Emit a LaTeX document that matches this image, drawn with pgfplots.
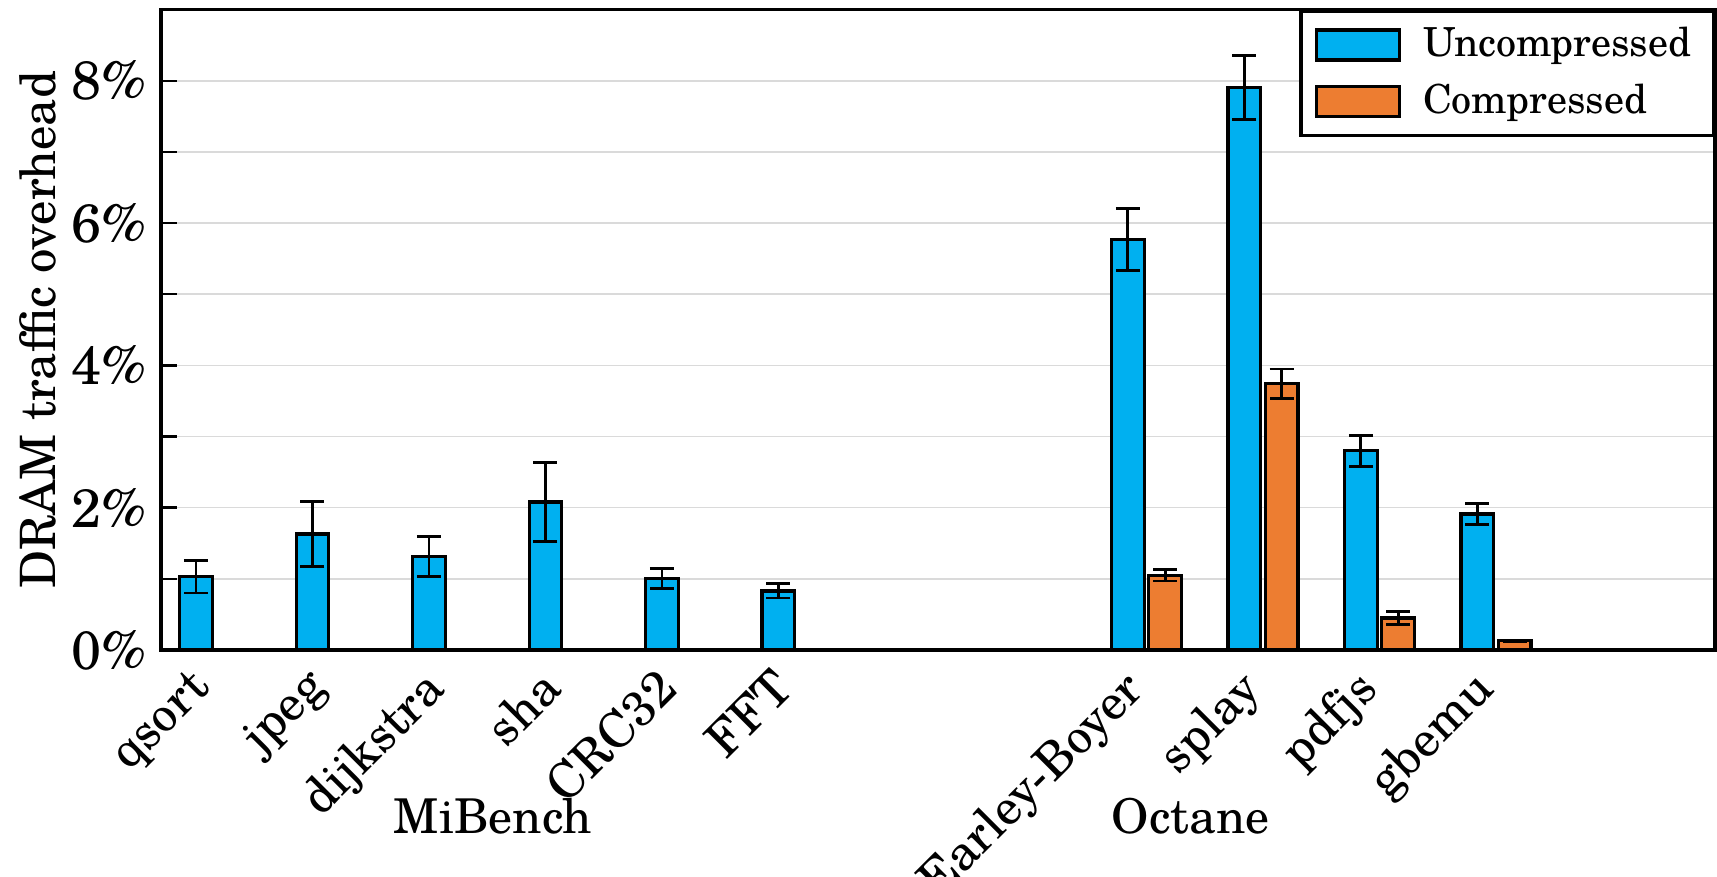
\documentclass[border=0pt]{standalone}
\usepackage{pgfplots}
\pgfplotsset{compat=1.18}
\usepackage{pgfplotstable}
\usepackage{fontspec}
\setmainfont{TeX Gyre Schola}
\definecolor{ublue}{HTML}{00B0F0}
\definecolor{corange}{HTML}{ED7D31}
\definecolor{gridgray}{RGB}{218,218,218}

\pgfplotstableread{
x y err
0 1.03 0.23
1 1.63 0.46
2 1.31 0.28
3 2.08 0.55
4 1.00 0.14
5 0.83 0.10
8 5.77 0.44
9 7.91 0.45
10 2.80 0.22
11 1.91 0.15
}\uncomp

\pgfplotstableread{
x y err
0 0 0
1 0 0
2 0 0
3 0 0
4 0 0
5 0 0
8 1.05 0.08
9 3.74 0.21
10 0.45 0.09
11 0.13 0.01
}\comp

\begin{document}
\begin{tikzpicture}
\begin{axis}[
  scale only axis, width=388.5pt, height=160.1pt,
  ybar, bar width=0.28,
  xmin=-0.46, xmax=12.88, ymin=0, ymax=9,
  clip=false,
  axis line style={line width=0.85pt},
  xtick={0,1,2,3,4,5,8,9,10,11},
  xticklabels={qsort,jpeg,dijkstra,sha,CRC32,FFT,Earley-Boyer,splay,pdfjs,gbemu},
  xticklabel style={xshift=-6.5pt, yshift=1pt, rotate=45, anchor=north east, font=\fontsize{12.3}{14}\selectfont},
  xtick style={draw=none},
  ytick={0,2,4,6,8}, minor ytick={1,3,5,7},
  ytick pos=left, tick align=inside,
  major tick length=4pt, minor tick length=4pt,
  ytick style={line width=0.6pt, black},
  minor tick style={line width=0.6pt, black},
  yticklabel={\pgfmathprintnumber{\tick}\%},
  /pgf/number format/assume math mode=true,
  yticklabel style={font=\fontsize{13.5}{15}\selectfont},
  ymajorgrids, yminorgrids,
  major grid style={gridgray, line width=0.4pt},
  minor grid style={gridgray, line width=0.4pt},
  ylabel={DRAM traffic overhead},
  every axis y label/.style={at={(axis description cs:-0.0791,0.5)}, rotate=90, anchor=center, font=\fontsize{12.2}{14}\selectfont},
  legend style={at={(rel axis cs:1,1)}, anchor=north east, draw=black, line width=0.85pt,
    font=\fontsize{10}{12}\selectfont, inner xsep=3.5pt, inner ysep=2pt, row sep=1.3pt,
    /tikz/every odd column/.append style={column sep=3.5pt}},
  legend cell align=left,
  every axis plot post/.append style={legend image code/.code={\draw[#1, line width=0.8pt] (0pt,-3.75pt) rectangle (20.75pt,3.75pt);}},
  error bars/y dir=both, error bars/y explicit,
  error bars/error bar style={line width=0.7pt, black},
  error bars/error mark options={rotate=90, mark size=3pt, line width=0.7pt, black},
]
\addplot[fill=ublue, draw=black, line width=0.8pt, bar shift=-0.16] table[x=x, y=y, y error=err] {\uncomp};
\addlegendentry{Uncompressed}
\addplot[fill=corange, draw=black, line width=0.8pt, bar shift=0.16] table[x=x, y=y, y error=err] {\comp};
\addlegendentry{Compressed}
\node[font=\fontsize{12}{14}\selectfont] at (axis cs:2.39,-2.33) {MiBench};
\node[font=\fontsize{12}{14}\selectfont] at (axis cs:8.38,-2.33) {Octane};
\end{axis}
\path (current axis.south west) ++(-40.25pt,-56.75pt) coordinate (BBA);
\path (current axis.north east) ++(0.5pt,2.4pt) coordinate (BBB);
\pgfresetboundingbox
\path[use as bounding box] (BBA) rectangle (BBB);
\end{tikzpicture}
\end{document}
